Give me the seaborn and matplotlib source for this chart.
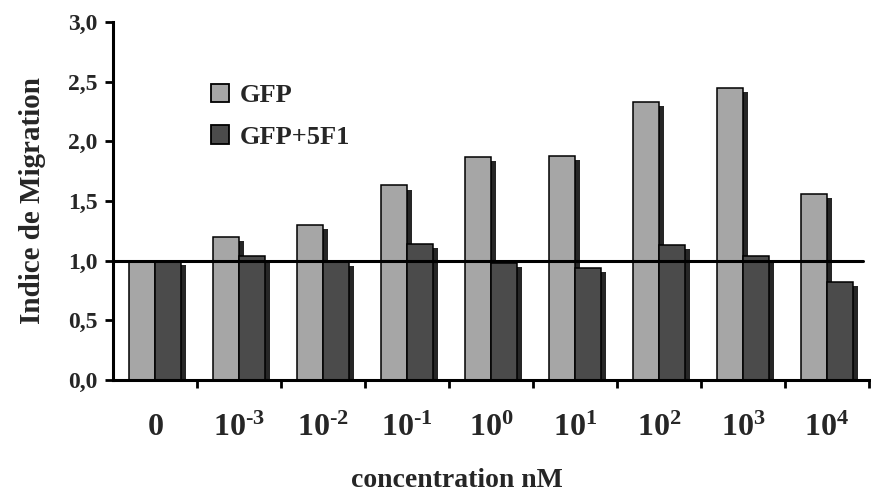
import numpy as np
import pandas as pd
import matplotlib
matplotlib.use("Agg")
import matplotlib.pyplot as plt
import matplotlib.patheffects as pe
from matplotlib.patches import Patch
from matplotlib.ticker import FuncFormatter, FixedLocator
import seaborn as sns

# Migration index per concentration (nM), two conditions
concentrations = ["0", "10^{\u20103}", "10^{\u20102}", "10^{\u20101}", "10^{0}",
                  "10^{1}", "10^{2}", "10^{3}", "10^{4}"]
gfp = [1.00, 1.20, 1.30, 1.63, 1.87, 1.88, 2.33, 2.45, 1.56]
gfp_5f1 = [1.00, 1.04, 0.99, 1.14, 0.98, 0.94, 1.13, 1.04, 0.82]
series_names = ["GFP", "GFP+5F1"]
y_ticks = [0.0, 0.5, 1.0, 1.5, 2.0, 2.5, 3.0]
reference_level = 1.0

df = pd.DataFrame({
    "concentration": concentrations * 2,
    "indice": gfp + gfp_5f1,
    "serie": [series_names[0]] * len(gfp) + [series_names[1]] * len(gfp_5f1),
})

sns.set_style("ticks")
plt.rcParams["font.family"] = ["Liberation Serif", "DejaVu Serif"]
plt.rcParams["font.weight"] = "bold"
plt.rcParams["mathtext.fontset"] = "custom"
plt.rcParams["mathtext.rm"] = "Liberation Serif:bold"
plt.rcParams["mathtext.bf"] = "Liberation Serif:bold"
plt.rcParams["mathtext.it"] = "Liberation Serif:bold"

fig = plt.figure(figsize=(8.71, 4.96), dpi=100)
ax = fig.add_axes([113 / 871, 1 - 380 / 496, 756 / 871, 358 / 496])

light, dark = "#a6a6a6", "#4b4b4b"
sns.barplot(data=df, x="concentration", y="indice", hue="serie",
            hue_order=series_names, order=concentrations,
            palette=[light, dark], width=0.63, gap=0, saturation=1,
            edgecolor="black", linewidth=1.1, legend=False, ax=ax)

# drop shadow to the lower right of every bar
for patch in ax.patches:
    patch.set_path_effects([
        pe.SimplePatchShadow(offset=(3.6, -3.0), shadow_rgbFace="#262626", alpha=1.0),
        pe.Normal(),
    ])

# reference line at index 1
ax.axhline(reference_level, xmin=0, xmax=0.992, color="black", lw=2.2, zorder=10)

ax.set_xlim(-0.5, len(concentrations) - 0.5)
ax.set_ylim(0, 3.0)
ax.set_yticks(y_ticks)
ax.yaxis.set_major_formatter(FuncFormatter(lambda v, _: f"{v:.1f}".replace(".", ",")))

# category labels centered, tick marks at category boundaries
ax.set_xticks(range(len(concentrations)))
ax.set_xticklabels([f"$\\mathbf{{{c}}}$" for c in concentrations])
ax.xaxis.set_minor_locator(FixedLocator(np.arange(0.5, len(concentrations) - 0.4, 1.0)))
ax.tick_params(axis="x", which="major", length=0, pad=24, labelsize=23)
ax.tick_params(axis="x", which="minor", length=6, width=2, direction="out", color="black")
ax.tick_params(axis="y", which="major", length=6, width=2, direction="out",
               color="black", labelsize=17, pad=5)
for lbl in ax.get_yticklabels():
    lbl.set_fontweight("bold")

for side in ["top", "right"]:
    ax.spines[side].set_visible(False)
for side in ["left", "bottom"]:
    ax.spines[side].set_linewidth(2.2)
    ax.spines[side].set_color("black")

ax.set_xlabel("concentration nM", fontsize=20, fontweight="bold")
ax.xaxis.set_label_coords(0.455, -0.245)
ax.set_ylabel("Indice de Migration", fontsize=21, fontweight="bold")
ax.yaxis.set_label_coords(-0.088, 0.5)

handles = [Patch(facecolor=c, edgecolor="black", linewidth=1.3) for c in (light, dark)]
ax.legend(handles, series_names, loc="upper left", bbox_to_anchor=(0.112, 0.865),
          frameon=False, borderpad=0, handlelength=0.7, handleheight=0.7,
          handletextpad=0.4, labelspacing=0.7,
          prop={"family": "Liberation Serif", "weight": "bold", "size": 19})

ax.grid(False)
fig.savefig("out.png", dpi=100)
